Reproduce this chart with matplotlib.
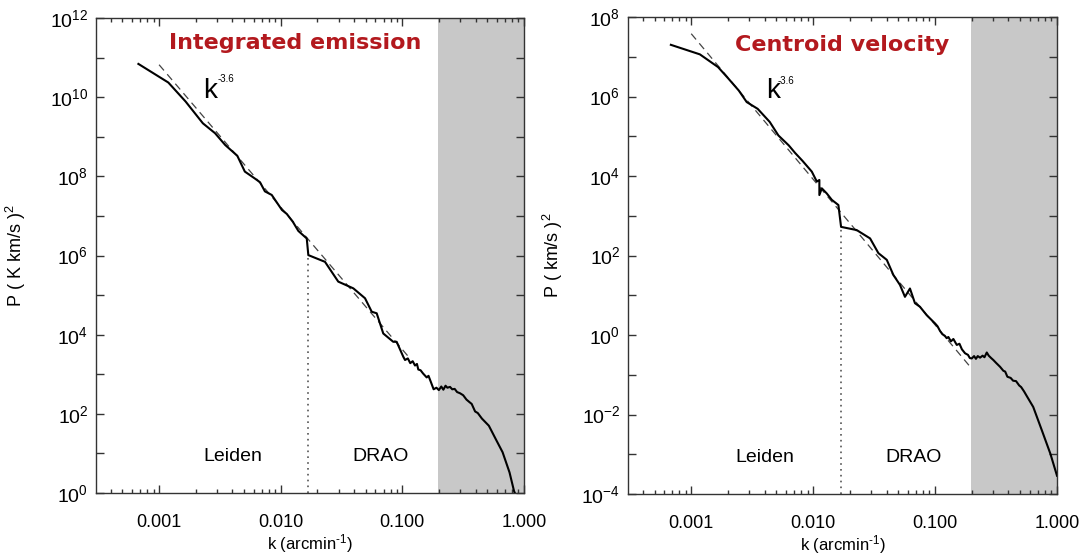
import numpy as np
import matplotlib
matplotlib.use("Agg")
import matplotlib.pyplot as plt
from matplotlib.ticker import FixedLocator, FuncFormatter, NullFormatter, NullLocator, LogLocator

plt.rcParams["font.family"] = ["Liberation Sans", "DejaVu Sans"]
plt.rcParams["mathtext.fontset"] = "custom"
plt.rcParams["mathtext.rm"] = "Liberation Sans"
plt.rcParams["mathtext.default"] = "regular"

# spectra, stored as log10 values
emis_logk = [-3.17, -2.924, -2.782, -2.64, -2.54, -2.456, -2.357, -2.295, -2.215, -2.17,
             -2.13, -2.074, -1.99, -1.95, -1.90, -1.855, -1.786, -1.773, -1.636, -1.527,
             -1.403, -1.307, -1.252, -1.211, -1.157, -1.075, -1.047, -0.992, -0.978, -0.955,
             -0.935, -0.915, -0.896, -0.88, -0.869, -0.85, -0.83, -0.80, -0.785, -0.765,
             -0.743, -0.72, -0.70, -0.68, -0.663, -0.645, -0.63, -0.608, -0.59, -0.57,
             -0.55, -0.526, -0.50, -0.473, -0.45, -0.43, -0.402, -0.38, -0.346, -0.289,
             -0.232, -0.176, -0.119, -0.082, -0.055]
emis_logP = [10.84, 10.37, 9.89, 9.34, 9.09, 8.79, 8.52, 8.12, 7.95, 7.85,
             7.62, 7.53, 7.15, 7.05, 6.85, 6.62, 6.43, 6.01, 5.84, 5.34,
             5.17, 4.92, 4.58, 4.54, 4.03, 3.82, 3.82, 3.44, 3.36, 3.40,
             3.28, 3.33, 3.22, 3.26, 3.12, 3.10, 3.02, 2.92, 2.96, 2.80,
             2.62, 2.66, 2.60, 2.69, 2.61, 2.71, 2.66, 2.68, 2.62, 2.63,
             2.55, 2.52, 2.47, 2.36, 2.30, 2.25, 2.06, 2.02, 1.88, 1.70,
             1.36, 1.03, 0.52, 0.05, -0.15]

vel_logk = [-3.167, -2.929, -2.78, -2.695, -2.61, -2.545, -2.455, -2.356, -2.285, -2.2,
            -2.148, -2.087, -2.011, -1.970, -1.949, -1.949, -1.929, -1.888, -1.847, -1.793,
            -1.771, -1.643, -1.533, -1.465, -1.396, -1.342, -1.288, -1.247, -1.206, -1.165,
            -1.124, -1.069, -1.0, -0.98, -0.959, -0.94, -0.92, -0.905, -0.891, -0.87,
            -0.85, -0.822, -0.80, -0.78, -0.754, -0.73, -0.715, -0.699, -0.68, -0.665,
            -0.65, -0.631, -0.61, -0.595, -0.576, -0.56, -0.54, -0.522, -0.50, -0.467,
            -0.44, -0.425, -0.407, -0.38, -0.36, -0.336, -0.31, -0.294, -0.27, -0.251,
            -0.195, -0.124, -0.054, 0.0]
vel_logP = [7.30, 7.06, 6.74, 6.45, 6.15, 5.86, 5.69, 5.36, 5.02, 4.77,
            4.58, 4.38, 4.11, 3.86, 3.90, 3.52, 3.69, 3.56, 3.40, 3.27,
            2.72, 2.64, 2.43, 2.06, 1.89, 1.51, 1.26, 0.96, 1.17, 0.80,
            0.71, 0.50, 0.29, 0.22, 0.10, 0.02, -0.02, -0.08, -0.05, -0.16,
            -0.10, -0.25, -0.22, -0.36, -0.46, -0.50, -0.58, -0.59, -0.53, -0.60,
            -0.53, -0.57, -0.52, -0.56, -0.44, -0.52, -0.58, -0.63, -0.70, -0.80,
            -0.90, -0.92, -1.05, -1.08, -1.15, -1.16, -1.27, -1.31, -1.42, -1.52,
            -1.81, -2.40, -2.99, -3.54]

# k^-3.6 fit lines (end points)
emis_fit_k = [0.001, 0.1156]
emis_fit_P = [6.6e10, 2.5e3]
vel_fit_k = [0.001, 0.1936]
vel_fit_P = [3.8e7, 0.16]

split_k = 0.0168          # Leiden / DRAO boundary
emis_split_top = 1.0e6
vel_split_top = 5.2e2
shade_k = [0.197, 1.0]    # unreliable range

xtick_vals = [0.001, 0.01, 0.1, 1.0]
xtick_labels = ["0.001", "0.010", "0.100", "1.000"]

panels = [
    dict(k=emis_logk, P=emis_logP, fit_k=emis_fit_k, fit_P=emis_fit_P, top=emis_split_top,
         ylim=(0, 12), title="Integrated emission", title_x=0.465, title_y=0.947,
         ylabel="P ( K km/s )$^2$", ylab_x=-0.16, kx=0.25, ky=0.832, sx=0.283, sy=0.860,
         pos=[96 / 1080, 63 / 556, 428 / 1080, 475 / 556]),
    dict(k=vel_logk, P=vel_logP, fit_k=vel_fit_k, fit_P=vel_fit_P, top=vel_split_top,
         ylim=(-4, 8), title="Centroid velocity", title_x=0.499, title_y=0.942,
         ylabel="P ( km/s )$^2$", ylab_x=-0.148, kx=0.321, ky=0.830, sx=0.349, sy=0.855,
         pos=[628 / 1080, 62 / 556, 429 / 1080, 477 / 556]),
]

fig = plt.figure(figsize=(10.8, 5.56), dpi=100)

for p in panels:
    ax = fig.add_axes(p["pos"])
    ax.set_xscale("log")
    ax.set_yscale("log")
    ax.set_xlim(3.03e-4, 1.0)
    ax.set_ylim(10.0 ** p["ylim"][0], 10.0 ** p["ylim"][1])

    ax.axvspan(shade_k[0], shade_k[1], color="#c8c8c8", lw=0, zorder=0)
    ax.plot(np.power(10.0, p["k"]), np.power(10.0, p["P"]), color="black", lw=1.5, zorder=3)
    ax.plot(p["fit_k"], p["fit_P"], color="#444444", lw=0.9, ls=(0, (6, 4)), zorder=2)
    ax.vlines(split_k, 10.0 ** p["ylim"][0], p["top"], color="#555555", lw=1.2,
              linestyles=(0, (1, 2.5)), zorder=2)

    # ticks
    ax.set_xticks(xtick_vals, xtick_labels)
    ax.xaxis.set_minor_locator(LogLocator(base=10, subs=np.arange(2, 10)))
    ax.xaxis.set_minor_formatter(NullFormatter())
    exps = np.arange(p["ylim"][0], p["ylim"][1] + 1)
    ax.yaxis.set_major_locator(FixedLocator(10.0 ** exps))
    ax.yaxis.set_major_formatter(FuncFormatter(
        lambda v, pos: r"$10^{%d}$" % round(np.log10(v)) if round(np.log10(v)) % 2 == 0 else ""))
    ax.yaxis.set_minor_locator(NullLocator())
    ax.tick_params(which="both", direction="in", top=True, right=True, color="#333333", width=1)
    ax.tick_params(which="major", length=6)
    ax.tick_params(which="minor", length=3)
    ax.tick_params(axis="x", which="major", pad=15, labelsize=13)
    ax.tick_params(axis="y", which="major", pad=5.5, labelsize=14)
    for s in ax.spines.values():
        s.set_color("#333333")
        s.set_linewidth(1)

    ax.set_xlabel("k (arcmin$^{\u2010 1}$)", fontsize=12)
    ax.xaxis.set_label_coords(0.5, -0.082)
    ax.set_ylabel(p["ylabel"], fontsize=13)
    ax.yaxis.set_label_coords(p["ylab_x"], 0.5)

    ax.text(p["title_x"], p["title_y"], p["title"], transform=ax.transAxes, ha="center",
            va="center", fontsize=16, fontweight="bold", color="#b3191e", family="DejaVu Sans")
    ax.text(p["kx"], p["ky"], "k", transform=ax.transAxes, fontsize=20, va="baseline")
    ax.text(p["sx"], p["sy"], "-3.6", transform=ax.transAxes, fontsize=7, va="bottom")
    ax.text(0.32, 0.077, "Leiden", transform=ax.transAxes, ha="center", va="center", fontsize=14)
    ax.text(0.666, 0.077, "DRAO", transform=ax.transAxes, ha="center", va="center", fontsize=14)

fig.savefig("out.png", dpi=100)
